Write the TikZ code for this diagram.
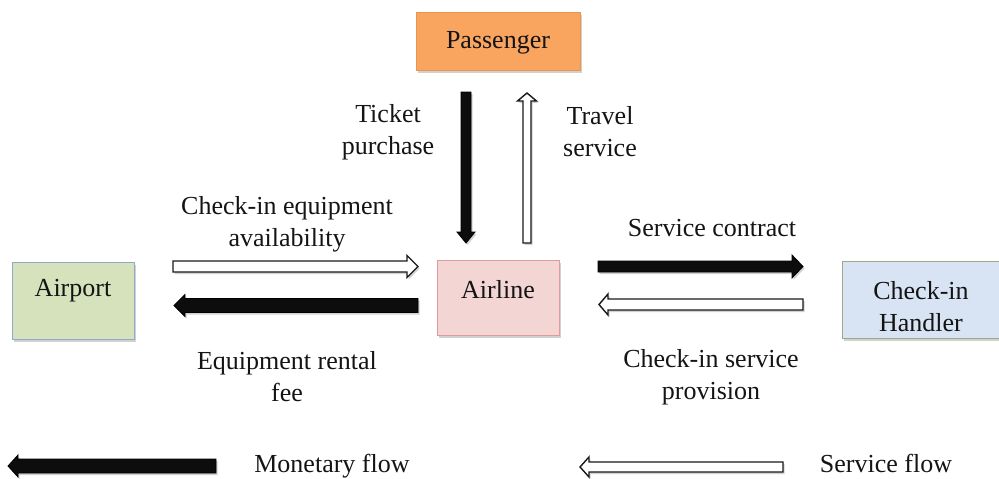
\documentclass[tikz,border=0pt]{standalone}
\usepackage{fontspec}
\setmainfont{Liberation Serif}
\usetikzlibrary{shadows}

\definecolor{passfill}{HTML}{F9A560}
\definecolor{passline}{HTML}{E8954E}
\definecolor{portfill}{HTML}{D5E2BB}
\definecolor{portline}{HTML}{8EA8CF}
\definecolor{linefill}{HTML}{F3D5D4}
\definecolor{lineline}{HTML}{DB9C9B}
\definecolor{handfill}{HTML}{D8E4F3}
\definecolor{handline}{HTML}{9AAA86}
\definecolor{ink}{HTML}{141414}

% horizontal block arrow: style, tail x, tip x, y, shaft half-width, head half-width, signed head length
\newcommand\hblock[7]{%
  \fill[black,opacity=0.18,shift={(1.5,2)}]
    ({#2},{#4-(#5)}) -- ({#3-(#7)},{#4-(#5)}) -- ({#3-(#7)},{#4-(#6)}) -- ({#3},{#4})
    -- ({#3-(#7)},{#4+(#6)}) -- ({#3-(#7)},{#4+(#5)}) -- ({#2},{#4+(#5)}) -- cycle;
  \draw[#1]
    ({#2},{#4-(#5)}) -- ({#3-(#7)},{#4-(#5)}) -- ({#3-(#7)},{#4-(#6)}) -- ({#3},{#4})
    -- ({#3-(#7)},{#4+(#6)}) -- ({#3-(#7)},{#4+(#5)}) -- ({#2},{#4+(#5)}) -- cycle;}
% vertical block arrow: style, tail y, tip y, x, shaft half-width, head half-width, signed head length
\newcommand\vblock[7]{%
  \fill[black,opacity=0.18,shift={(1.5,2)}]
    ({#4-(#5)},{#2}) -- ({#4-(#5)},{#3-(#7)}) -- ({#4-(#6)},{#3-(#7)}) -- ({#4},{#3})
    -- ({#4+(#6)},{#3-(#7)}) -- ({#4+(#5)},{#3-(#7)}) -- ({#4+(#5)},{#2}) -- cycle;
  \draw[#1]
    ({#4-(#5)},{#2}) -- ({#4-(#5)},{#3-(#7)}) -- ({#4-(#6)},{#3-(#7)}) -- ({#4},{#3})
    -- ({#4+(#6)},{#3-(#7)}) -- ({#4+(#5)},{#3-(#7)}) -- ({#4+(#5)},{#2}) -- cycle;}

\tikzset{
  box/.style={draw, line width=0.9pt, inner sep=0pt,
    drop shadow={shadow xshift=1.5pt, shadow yshift=-2.5pt, opacity=0.3, fill=black!60}},
  txt/.style={text=ink, font=\fontsize{26}{32}\selectfont, align=center, inner sep=0pt, yshift=-3pt},
  money/.style={fill=black!95, draw=black, line width=0.8pt, line join=miter},
  serv/.style={fill=white, draw=black!90, line width=1.4pt, line join=miter},
}

\begin{document}
\begin{tikzpicture}[x=1pt,y=-1pt]
\useasboundingbox (0,0) rectangle (999,479);
\clip (0,0) rectangle (999,479);

% actors
\node[box, fill=passfill, draw=passline, minimum width=164, minimum height=58] (passenger) at (498,41) {};
\node[txt] (passengerlbl) at (498,40) {Passenger};

\node[box, fill=portfill, draw=portline, minimum width=122, minimum height=77] (airport) at (73,300.5) {};
\node[txt] (airportlbl) at (73,288) {Airport};

\node[box, fill=linefill, draw=lineline, minimum width=122, minimum height=75] (airline) at (498,297.5) {};
\node[txt] (airlinelbl) at (498,287) {Airline};

\node[box, fill=handfill, draw=handline, minimum width=165, minimum height=77] (handler) at (924.5,299.5) {};
\node[txt] (handlerlbl) at (921,304) {Check-in\\Handler};

% flows between passenger and airline
\vblock{money}{92}{243}{466}{5}{9}{11}
\vblock{serv}{243}{93}{527}{4}{9.5}{-8}
\node[txt] (ticket) at (388,129) {Ticket\\purchase};
\node[txt] (travel) at (600,129) {Travel\\service};

% flows between airport and airline
\hblock{serv}{173}{418}{266.5}{5.5}{11}{11}
\hblock{money}{418}{174}{305.5}{7}{11}{-11}
\node[txt] (equipavail) at (287,221) {Check-in equipment\\availability};
\node[txt] (rentalfee) at (287,374) {Equipment rental\\fee};

% flows between airline and check-in handler
\hblock{money}{598}{803}{266.5}{5.5}{11.5}{11}
\hblock{serv}{803}{599}{304.5}{5.5}{10.5}{-9}
\node[txt] (contract) at (712,225) {Service contract};
\node[txt] (provision) at (711,374) {Check-in service\\provision};

% legend
\hblock{money}{216}{8}{466}{7}{11}{-10}
\node[txt, anchor=base] (monetary) at (332,469.5) {Monetary flow};
\hblock{serv}{783}{580}{467}{5}{10}{-9}
\node[txt, anchor=base] (serviceflow) at (886,469.5) {Service flow};
\end{tikzpicture}
\end{document}
